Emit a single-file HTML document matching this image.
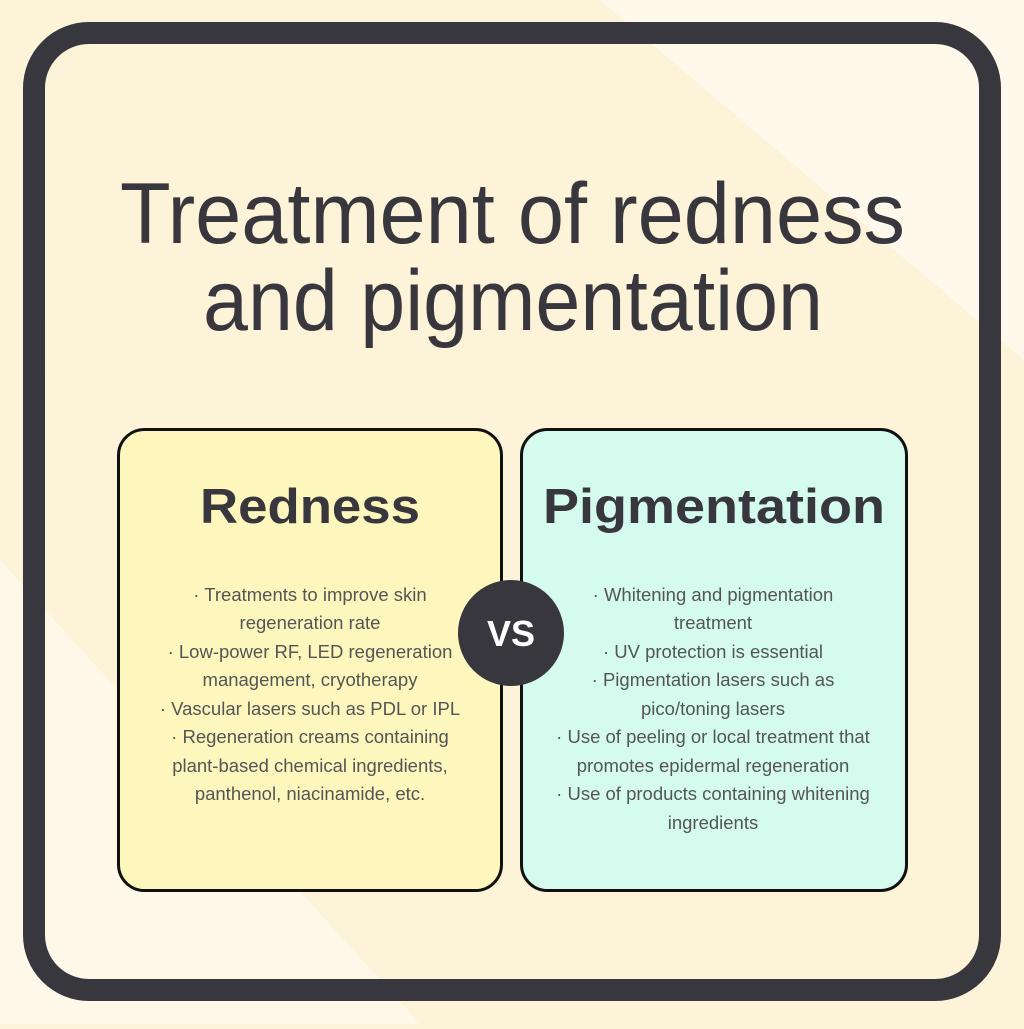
<!DOCTYPE html>
<html><head><meta charset="utf-8"><style>
body{margin:0;width:1024px;height:1024px;overflow:hidden;background:#fdf3d8;font-family:"Liberation Sans",sans-serif}
</style></head><body>
<svg width="1024" height="1024" viewBox="0 0 1024 1024" xmlns="http://www.w3.org/2000/svg">
<defs>
<linearGradient id="bg" x1="0" y1="0" x2="1" y2="1">
<stop offset="0" stop-color="#fdf3d6"/><stop offset="0.5" stop-color="#fdf4d9"/><stop offset="0.5" stop-color="#fef8e6"/><stop offset="1" stop-color="#fdf2d6"/>
</linearGradient>
</defs>
<rect width="1024" height="1024" fill="#fdf3d8"/>
<polygon points="600,0 1024,0 1024,360 " fill="#fef9ea"/>
<polygon points="0,560 0,1024 420,1024" fill="#fef8e8"/>
<rect x="34" y="33" width="956" height="957" rx="55" fill="none" stroke="#38373d" stroke-width="22"/>
<g fill="#38373d" font-family="Liberation Sans, sans-serif" font-size="86">
<text x="120" y="243" textLength="785" lengthAdjust="spacingAndGlyphs">Treatment of redness</text>
<text x="203" y="330" textLength="620" lengthAdjust="spacingAndGlyphs">and pigmentation</text>
</g>
<rect x="118.5" y="429.5" width="383" height="461" rx="26" fill="#fdf7be" stroke="#111" stroke-width="3"/>
<rect x="521.5" y="429.5" width="385" height="461" rx="26" fill="#d4fbee" stroke="#111" stroke-width="3"/>
<g fill="#38373d" font-weight="bold" font-size="49" font-family="Liberation Sans, sans-serif">
<text x="200" y="523" textLength="220" lengthAdjust="spacingAndGlyphs">Redness</text>
<text x="543" y="523" textLength="342" lengthAdjust="spacingAndGlyphs">Pigmentation</text>
</g>
<g fill="#555" font-size="18.5" font-family="Liberation Sans, sans-serif" text-anchor="middle">
<text x="310" y="601">· Treatments to improve skin</text>
<text x="310" y="629">regeneration rate</text>
<text x="310" y="658">· Low-power RF, LED regeneration</text>
<text x="310" y="686">management, cryotherapy</text>
<text x="310" y="715">· Vascular lasers such as PDL or IPL</text>
<text x="310" y="743">· Regeneration creams containing</text>
<text x="310" y="772">plant-based chemical ingredients,</text>
<text x="310" y="800">panthenol, niacinamide, etc.</text>
<text x="713" y="601">· Whitening and pigmentation</text>
<text x="713" y="629">treatment</text>
<text x="713" y="658">· UV protection is essential</text>
<text x="713" y="686">· Pigmentation lasers such as</text>
<text x="713" y="715">pico/toning lasers</text>
<text x="713" y="743">· Use of peeling or local treatment that</text>
<text x="713" y="772">promotes epidermal regeneration</text>
<text x="713" y="800">· Use of products containing whitening</text>
<text x="713" y="829">ingredients</text>
</g>
<circle cx="511" cy="633" r="53" fill="#38373d"/>
<text x="511" y="646" fill="#fff" font-weight="bold" font-size="36" text-anchor="middle" font-family="Liberation Sans, sans-serif">VS</text>
</svg>
</body></html>
